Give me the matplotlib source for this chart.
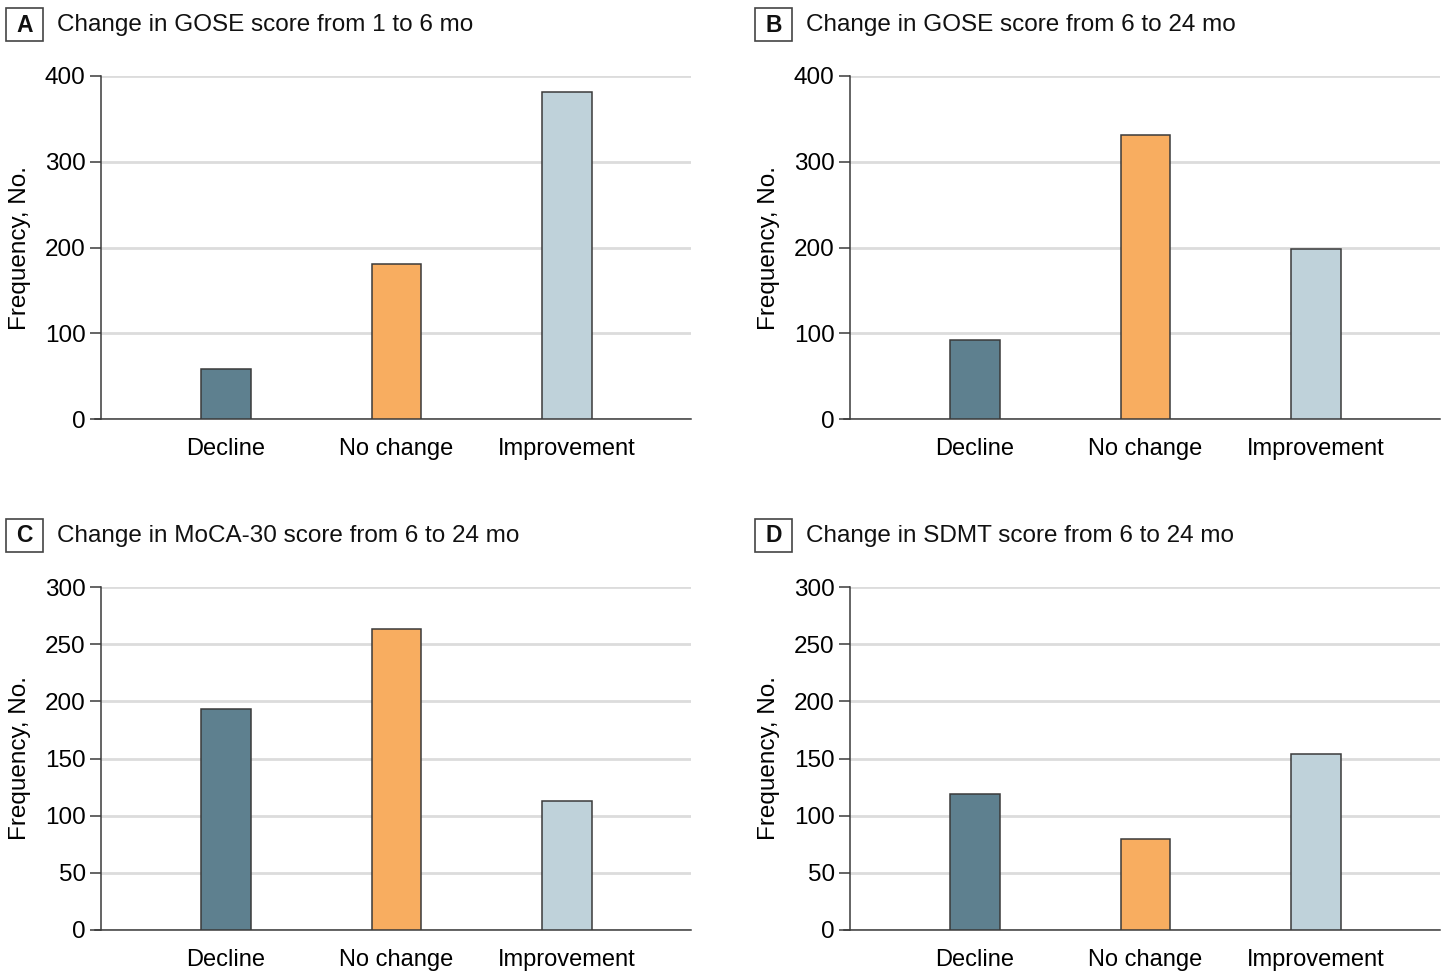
import matplotlib
matplotlib.use("Agg")
import matplotlib.pyplot as plt
import matplotlib.patches as mpatches
import numpy as np

plt.rcParams['font.family'] = ['Liberation Sans', 'DejaVu Sans']

categories = ["Decline", "No change", "Improvement"]
colors = ['#5e808f', '#f8ad60', '#bfd2da']

panel_letters = ["A", "B", "C", "D"]
panel_titles = [
    "Change in GOSE score from 1 to 6 mo",
    "Change in GOSE score from 6 to 24 mo",
    "Change in MoCA-30 score from 6 to 24 mo",
    "Change in SDMT score from 6 to 24 mo",
]
gose_1_6 = [58, 181, 381]
gose_6_24 = [92, 331, 198]
moca_6_24 = [193, 263, 113]
sdmt_6_24 = [119, 80, 154]
panel_values = [gose_1_6, gose_6_24, moca_6_24, sdmt_6_24]
ymax = [400, 400, 300, 300]
ystep = [100, 100, 50, 50]

W, H = 1446, 975
fig = plt.figure(figsize=(W / 100, H / 100), dpi=100)

# pixel positions of each panel (left spine x, top y)
lefts = [101, 850, 101, 850]
tops = [76, 76, 587, 587]
ax_w, ax_h = 590, 343

for i in range(4):
    l, t = lefts[i], tops[i]
    ax = fig.add_axes([l / W, 1 - (t + ax_h) / H, ax_w / W, ax_h / H])
    x = np.arange(len(categories))
    ax.bar(x, panel_values[i], width=0.29, color=colors, edgecolor='#3a3a3a',
           linewidth=1.1, zorder=3)
    ax.set_xlim(-0.733, 2.727)
    ax.set_ylim(0, ymax[i])
    ax.set_yticks(np.arange(0, ymax[i] + 1, ystep[i]))
    ax.yaxis.grid(True, color='#dcdcdc', linewidth=2, zorder=0)
    ax.set_axisbelow(True)
    ax.set_xticks(x)
    ax.set_xticklabels(categories)
    ax.tick_params(axis='x', length=0, pad=14, labelsize=17)
    ax.tick_params(axis='y', length=8, width=1.1, color='#3a3a3a', pad=3, labelsize=17.5)
    for s in ['top', 'right']:
        ax.spines[s].set_visible(False)
    for s in ['left', 'bottom']:
        ax.spines[s].set_color('#3a3a3a')
        ax.spines[s].set_linewidth(1.1)
    ax.spines['bottom'].set_bounds(-0.733 - 0.035, 2.727)
    ax.spines['bottom'].set_clip_on(False)
    ax.set_ylabel("Frequency, No.", fontsize=17.5, labelpad=10)

    # panel letter box and title
    bx = l - 95
    by = t - 68
    fig.patches.append(mpatches.Rectangle((bx / W, 1 - (by + 33) / H), 37 / W, 33 / H,
                                          transform=fig.transFigure, fc='white',
                                          ec='#444444', lw=1.2))
    fig.text((bx + 18.5) / W, 1 - (by + 17) / H, panel_letters[i], ha='center',
             va='center', fontsize=16.5, fontweight='bold', color='#111111')
    fig.text((bx + 51) / W, 1 - (by + 17) / H, panel_titles[i], ha='left',
             va='center', fontsize=17.5, color='#111111')

fig.savefig("out.png", dpi=100, facecolor='white')
